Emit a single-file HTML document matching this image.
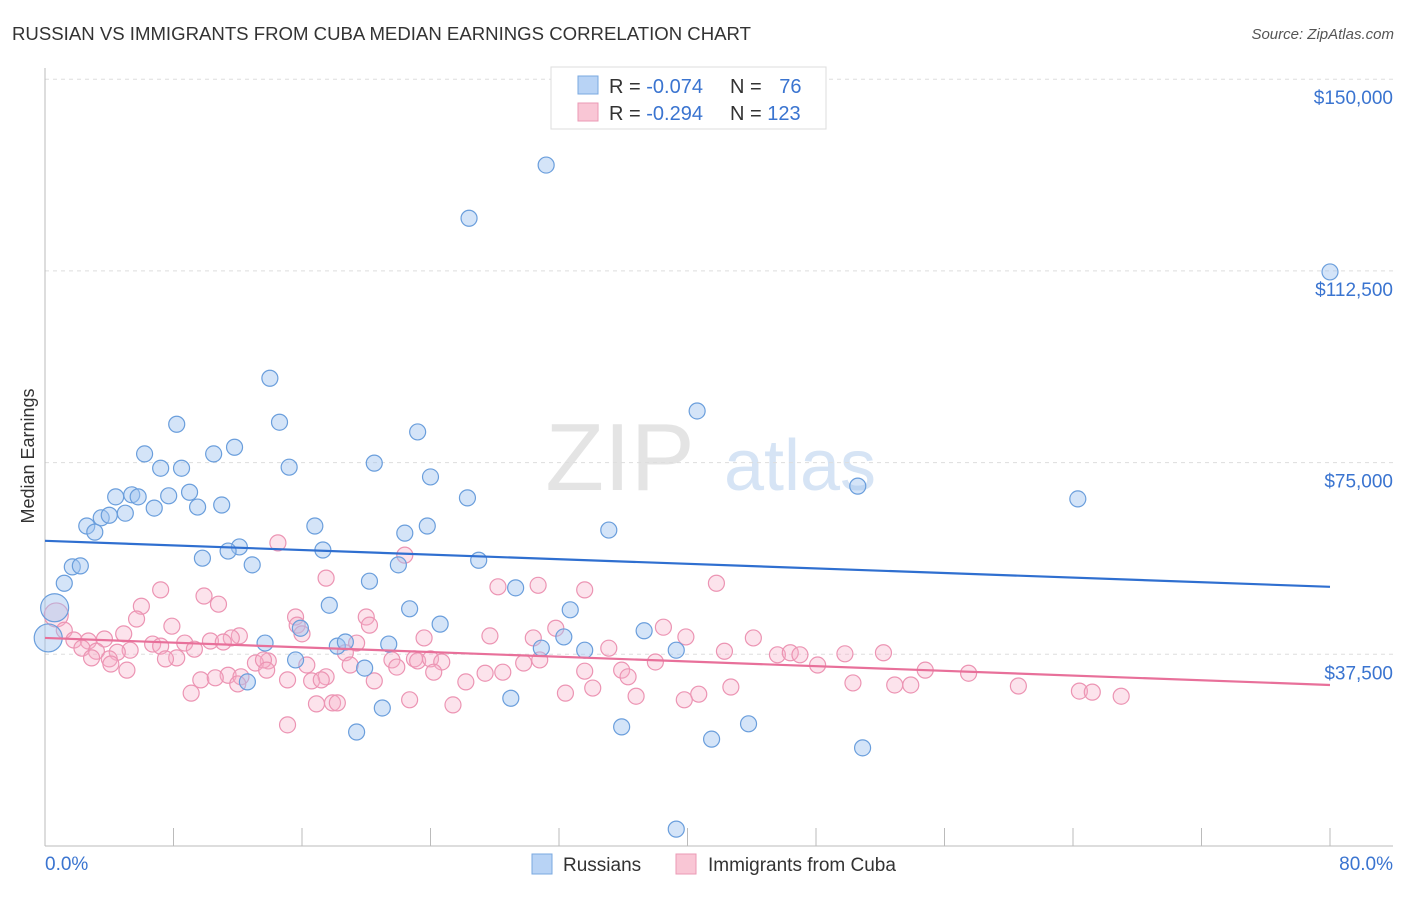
<!DOCTYPE html>
<html><head><meta charset="utf-8"><style>
body{margin:0;background:#fff;font-family:"Liberation Sans",sans-serif;}
svg text{font-family:"Liberation Sans",sans-serif;}
</style></head><body>
<svg id="chart" width="1406" height="892" xmlns="http://www.w3.org/2000/svg">
<text x="12" y="40" font-size="18.6" fill="#333">RUSSIAN VS IMMIGRANTS FROM CUBA MEDIAN EARNINGS CORRELATION CHART</text>
<text x="1394" y="39" font-size="15" fill="#555" font-style="italic" text-anchor="end">Source: ZipAtlas.com</text>
<text x="620" y="490" font-size="96" fill="#e4e4e4" font-family="Liberation Serif" text-anchor="middle">ZIP</text>
<text x="800" y="490" font-size="72" fill="#d6e4f5" text-anchor="middle">atlas</text>
<text x="34" y="456" font-size="18" fill="#333" text-anchor="middle" transform="rotate(-90 34 456)">Median Earnings</text>
<g id="grid"></g><g id="pts"></g><g id="trend"></g>
<g>
<rect x="551" y="67" width="275" height="62" fill="#fff" stroke="#ddd"/>
<rect x="578" y="76" width="20" height="18" fill="#b8d3f5" stroke="#7aa8e0"/>
<rect x="578" y="103" width="20" height="18" fill="#f9c6d5" stroke="#eb9ab5"/>
<text x="609" y="93" font-size="20" fill="#333">R = <tspan fill="#3a74d0">-0.074</tspan></text>
<text x="730" y="93" font-size="20" fill="#333">N = <tspan fill="#3a74d0" dx="12">76</tspan></text>
<text x="609" y="120" font-size="20" fill="#333">R = <tspan fill="#3a74d0">-0.294</tspan></text>
<text x="730" y="120" font-size="20" fill="#333">N = <tspan fill="#3a74d0">123</tspan></text>
</g>
<g>
<rect x="532" y="854" width="20" height="20" fill="#b8d3f5" stroke="#7aa8e0"/>
<text x="563" y="871" font-size="19" fill="#333">Russians</text>
<rect x="676" y="854" width="20" height="20" fill="#f9c6d5" stroke="#eb9ab5"/>
<text x="708" y="871" font-size="19" fill="#333">Immigrants from Cuba</text>
</g>
</svg>
<script>
const yTicks=[37500,75000,112500,150000];
const yTickLabels=["$37,500","$75,000","$112,500","$150,000"];
const xTickLabels=["0.0%","80.0%"];
const blueX=[31.2,26.4,80.0,14.0,40.6,14.6,23.2,8.2,11.8,6.2,10.5,7.2,8.5,15.2,20.5,24.0,50.6,9.0,4.4,5.4,5.8,7.7,26.3,64.3,11.0,9.5,6.8,3.5,5.0,4.0,2.6,3.1,16.8,23.8,35.1,22.4,12.1,11.4,17.3,9.8,27.0,12.9,22.0,1.7,2.2,1.2,20.2,29.3,0.6,17.7,22.7,32.7,24.6,15.9,37.3,32.3,13.7,18.2,18.7,21.4,30.9,33.6,39.3,0.2,15.6,19.9,12.6,29.0,21.0,19.4,35.9,43.8,41.5,50.9,39.3];
const blueY=[133200,122800,112300,91500,85100,82900,81000,82500,78000,76700,76700,73900,73900,74100,74900,72200,70400,69200,68300,68700,68300,68500,68100,67900,66700,66300,66100,64200,65100,64700,62600,61400,62600,62600,61800,61200,58500,57700,57900,56300,55900,55000,55000,54600,54800,51400,51800,50500,46600,47100,46400,46200,43400,42600,42100,40900,39700,39100,39900,39500,38700,38300,38300,40700,36400,34800,32100,28900,27000,22300,23300,23900,20900,19200,3300];
const pinkX=[14.5,22.4,41.8,17.5,7.2,28.2,30.7,33.6,9.9,6.0,10.8,15.6,20.0,5.7,0.7,15.7,7.9,20.2,31.8,38.5,1.2,16.0,4.9,12.1,11.6,27.7,39.9,44.1,30.4,3.7,1.8,2.7,23.6,10.3,6.7,11.1,8.7,19.4,7.2,2.3,9.3,5.3,3.2,4.5,35.1,42.3,18.7,45.6,46.4,47.0,49.8,52.2,2.9,4.0,8.2,7.5,13.9,13.1,13.6,21.6,23.0,23.2,24.0,24.7,30.8,38.0,29.8,4.1,16.3,19.0,21.9,48.1,35.9,5.1,13.8,24.2,27.4,28.5,33.6,54.8,57.5,11.4,12.2,17.5,36.3,9.7,10.6,15.1,16.6,17.2,26.2,20.5,12.0,50.3,52.9,53.9,34.1,42.7,60.6,64.4,65.2,67.0,9.1,32.4,36.8,40.7,39.8,22.7,16.9,17.9,18.2,25.4,15.1];
const pinkY=[59300,56900,51400,52400,50100,50700,51000,50100,48900,46900,47300,44800,44800,44400,45200,43200,43000,43200,42600,42800,42200,41500,41500,41100,40700,41100,40900,40700,40700,40500,40300,40100,40700,40100,39500,39900,39700,39700,39100,38700,38500,38300,38100,37900,38700,38100,37800,37400,37800,37400,37600,37800,36800,36600,36800,36600,36200,35800,36400,36400,36600,36200,36600,36000,36400,36000,35800,35600,35400,35400,35000,35400,34400,34400,34400,34000,33800,34000,34200,34400,33800,33400,33100,33100,33100,32500,32900,32500,32300,32500,32100,32300,31700,31900,31500,31500,30900,31100,31300,30300,30100,29300,29900,29900,29300,29700,28600,28600,27800,28000,28000,27600,23700];
const blueTrend=[59700,50700];
const pinkTrend=[40700,31500];
const bigBlue=[48,63];const bigPink=[14];
const NS="http://www.w3.org/2000/svg";
const X0=45,X1=1330,Y0=846,YPX=191.7/37500;
function xs(v){return X0+(v/80)*(X1-X0);}
function ys(v){return Y0-v*YPX;}
function mk(t,a,p){const e=document.createElementNS(NS,t);for(const k in a)e.setAttribute(k,a[k]);p.appendChild(e);return e;}
const grid=document.getElementById('grid');
yTicks.forEach((t,i)=>{
 const l=mk('line',{x1:X0,x2:1393,y1:ys(t),y2:ys(t),stroke:'#ddd','stroke-dasharray':'4,4'},grid);
 
 
 const tx=mk('text',{x:1393,y:ys(t)+25,'font-size':19,fill:'#3a74d0','text-anchor':'end'},grid);
 tx.textContent=yTickLabels[i];
 
 
});
const ax=mk('line',{x1:X0,x2:X0,y1:68,y2:Y0,stroke:'#bbb'},grid);


const bx=mk('line',{x1:X0,x2:1393,y1:Y0,y2:Y0,stroke:'#bbb'},grid);


for(let i=0;i<=10;i++){const t=mk('line',{x1:xs(i*8),x2:xs(i*8),y1:828,y2:Y0,stroke:'#bbb'},grid);
 
 }
const xl0=mk('text',{x:45,y:870,'font-size':19,fill:'#3a74d0'},grid);xl0.textContent=xTickLabels[0];


const xl1=mk('text',{x:1393,y:870,'font-size':19,fill:'#3a74d0','text-anchor':'end'},grid);xl1.textContent=xTickLabels[1];


const pts=document.getElementById('pts');
pinkX.forEach((x,i)=>{const c=mk('circle',{cx:xs(x),cy:ys(pinkY[i]),r:bigPink.includes(i)?12:8,fill:'rgba(246,176,200,0.35)',stroke:'#ec94b3','stroke-width':1.2},pts);
 
 });
blueX.forEach((x,i)=>{const c=mk('circle',{cx:xs(x),cy:ys(blueY[i]),r:bigBlue.includes(i)?14:8,fill:'rgba(160,196,240,0.45)',stroke:'#6a9edc','stroke-width':1.2},pts);
 
 });
const tr=document.getElementById('trend');
const b=mk('line',{x1:xs(0),x2:xs(80),y1:ys(blueTrend[0]),y2:ys(blueTrend[1]),stroke:'#2f6fd0','stroke-width':2.2},tr);


const p=mk('line',{x1:xs(0),x2:xs(80),y1:ys(pinkTrend[0]),y2:ys(pinkTrend[1]),stroke:'#e8709a','stroke-width':2.2},tr);


</script>
</body></html>
